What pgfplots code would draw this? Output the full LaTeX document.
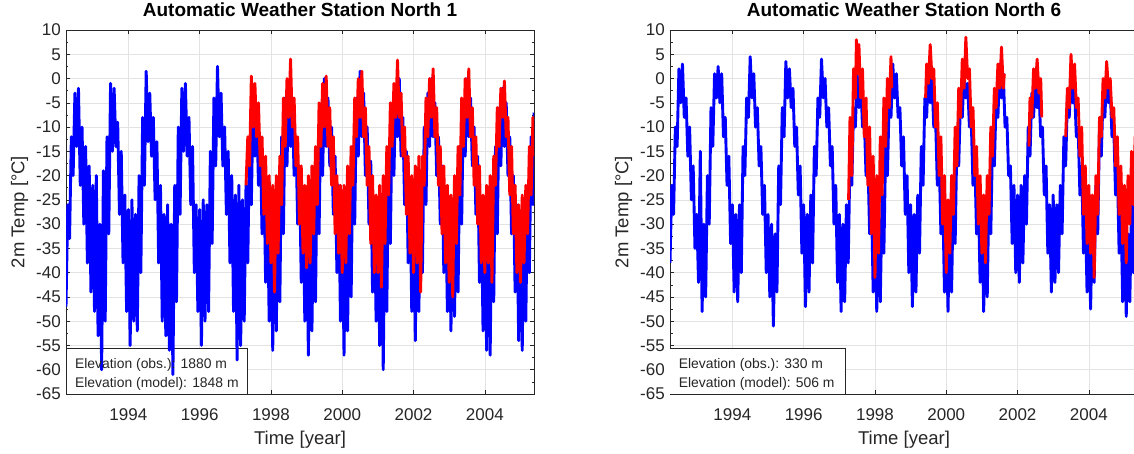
\documentclass[border=0pt]{standalone}
\usepackage{fontspec}
\setmainfont{Liberation Sans}
\usepackage{pgfplots}
\pgfplotsset{compat=1.18}
\definecolor{mblue}{rgb}{0,0,1}
\definecolor{mred}{rgb}{1,0,0}
\definecolor{axgray}{gray}{0.15}
\tikzset{
  dat/.style={line width=2.9pt, line join=round},
  elev/.style={anchor=base west, inner sep=0pt, font=\fontsize{13.9}{16}\selectfont, text=axgray},
}
\pgfplotsset{
  awsaxis/.style={
    scale only axis, width=468pt, height=364pt,
    anchor=south west,
    xmin=1992.25, xmax=2005.38, ymin=-65, ymax=10,
    xtick={1994,1996,...,2004}, ytick={-65,-60,...,10},
    minor x tick num=3, minor y tick num=1,
    grid=major, major grid style={gray!22, line width=0.5pt},
    tick align=inside, major tick length=4pt, minor tick length=2.5pt,
    axis line style={axgray, line width=0.6pt},
    every tick/.style={axgray, line width=0.5pt},
    tick label style={text=axgray, font=\fontsize{17}{20}\selectfont},
    /pgf/number format/assume math mode=true,
    /pgf/number format/1000 sep={},
    xticklabel style={anchor=base, yshift=-26pt},
    yticklabel style={anchor=east, inner sep=0pt, xshift=-5pt},
    title style={font=\bfseries\fontsize{19}{22}\selectfont, at={(axis description cs:0.5,1)}, anchor=base, yshift=8pt},
    xlabel style={font=\fontsize{18.5}{21}\selectfont, text=axgray, at={(axis description cs:0.5,0)}, anchor=base, yshift=-50pt},
    ylabel style={font=\fontsize{18.5}{21}\selectfont, text=axgray, at={(axis description cs:-0.0887,0.5)}, anchor=base},
    xlabel={Time [year]}, ylabel={2m Temp [°C]},
    unbounded coords=jump,
  },
}
\begin{document}
\begin{tikzpicture}
% ---------------- Left panel ----------------
\begin{axis}[awsaxis, at={(66pt,59pt)}, title={Automatic Weather Station North 1}]
\draw[axgray, line width=0.7pt, fill=white] (axis cs:1992.25,-65) rectangle (axis cs:1997.33,-55.5);
\addplot[mblue, dat] coordinates {
(1992.25,-47)(1992.30,-26)(1992.35,-33)(1992.40,-12)(1992.45,-20)(1992.50,-3)(1992.55,-14)(1992.60,-2)(1992.65,-22)(1992.70,-10)(1992.75,-30)(1992.80,-14)(1992.85,-38)(1992.90,-18)(1992.95,-44)
(1993.00,-22)(1993.05,-48)(1993.10,-20)(1993.15,-53)(1993.20,-30)(1993.25,-60)(1993.30,-19)(1993.35,-50)(1993.40,-12)(1993.45,-32)(1993.50,-1)(1993.55,-15)(1993.60,-2)(1993.65,-14)(1993.70,-9)(1993.75,-28)(1993.80,-15)(1993.85,-38)(1993.90,-24)(1993.95,-48)
(1994.00,-27)(1994.05,-55)(1994.10,-25)(1994.15,-50)(1994.20,-28)(1994.25,-52)(1994.30,-20)(1994.35,-40)(1994.40,-8)(1994.45,-22)(1994.50,1.5)(1994.55,-13)(1994.60,-3)(1994.65,-16)(1994.70,-8)(1994.75,-25)(1994.80,-13)(1994.85,-38)(1994.90,-22)(1994.95,-50)
(1995.00,-28)(1995.05,-53)(1995.10,-26)(1995.15,-56)(1995.20,-30)(1995.25,-61)(1995.30,-22)(1995.35,-46)(1995.40,-10)(1995.45,-28)(1995.50,-2)(1995.55,-15)(1995.60,-1)(1995.65,-16)(1995.70,-8)(1995.75,-26)(1995.80,-14)(1995.85,-40)(1995.90,-26)(1995.95,-48)
(1996.00,-27)(1996.05,-55)(1996.10,-25)(1996.15,-50)(1996.20,-26)(1996.25,-48)(1996.30,-15)(1996.35,-34)(1996.40,-4)(1996.45,-18)(1996.50,2.5)(1996.55,-12)(1996.60,-3)(1996.65,-18)(1996.70,-10)(1996.75,-28)(1996.80,-15)(1996.85,-38)(1996.90,-20)(1996.95,-48)
(1997.00,-24)(1997.05,-58)(1997.10,-22)(1997.15,-55)(1997.20,-25)(1997.25,-50)(1997.30,-22)(1997.35,-38)(1997.40,-12)(1997.45,-26)(1997.50,-4)(1997.55,-16)(1997.60,-6)(1997.65,-22)(1997.70,-12)(1997.75,-32)(1997.80,-17)(1997.85,-42)(1997.90,-24)(1997.95,-50)
(1998.00,-26)(1998.05,-56)(1998.10,-25)(1998.15,-52)(1998.20,-22)(1998.25,-46)(1998.30,-12)(1998.35,-32)(1998.40,-4)(1998.45,-18)(1998.50,-1)(1998.55,-14)(1998.60,-5)(1998.65,-20)(1998.70,-12)(1998.75,-30)(1998.80,-18)(1998.85,-42)(1998.90,-24)(1998.95,-50)
(1999.00,-28)(1999.05,-57)(1999.10,-26)(1999.15,-52)(1999.20,-24)(1999.25,-46)(1999.30,-15)(1999.35,-32)(1999.40,-6)(1999.45,-20)(1999.50,0)(1999.55,-14)(1999.60,-4)(1999.65,-18)(1999.70,-10)(1999.75,-28)(1999.80,-16)(1999.85,-40)(1999.90,-22)(1999.95,-50)
(2000.00,-27)(2000.05,-57)(2000.10,-26)(2000.15,-52)(2000.20,-24)(2000.25,-45)(2000.30,-14)(2000.35,-30)(2000.40,-4)(2000.45,-16)(2000.50,1.5)(2000.55,-12)(2000.60,-3)(2000.65,-20)(2000.70,-10)(2000.75,-30)(2000.80,-17)(2000.85,-44)(2000.90,-25)(2000.95,-50)
(2001.00,-27)(2001.05,-55)(2001.10,-28)(2001.15,-60)(2001.20,-25)(2001.25,-48)(2001.30,-16)(2001.35,-34)(2001.40,-7)(2001.45,-20)(2001.50,-2)(2001.55,-12)(2001.60,0)(2001.65,-16)(2001.70,-8)(2001.75,-26)(2001.80,-15)(2001.85,-38)(2001.90,-22)(2001.95,-48)
(2002.00,-26)(2002.05,-54)(2002.10,-24)(2002.15,-48)(2002.20,-20)(2002.25,-40)(2002.30,-10)(2002.35,-26)(2002.40,-3)(2002.45,-14)(2002.50,0)(2002.55,-12)(2002.60,-5)(2002.65,-20)(2002.70,-12)(2002.75,-30)(2002.80,-18)(2002.85,-40)(2002.90,-24)(2002.95,-48)
(2003.00,-26)(2003.05,-52)(2003.10,-25)(2003.15,-49)(2003.20,-24)(2003.25,-44)(2003.30,-14)(2003.35,-30)(2003.40,-5)(2003.45,-16)(2003.50,0)(2003.55,-12)(2003.60,-4)(2003.65,-18)(2003.70,-10)(2003.75,-28)(2003.80,-16)(2003.85,-42)(2003.90,-25)(2003.95,-52)
(2004.00,-28)(2004.05,-56)(2004.10,-26)(2004.15,-57)(2004.20,-25)(2004.25,-46)(2004.30,-14)(2004.35,-32)(2004.40,-6)(2004.45,-18)(2004.50,-2)(2004.55,-14)(2004.60,-5)(2004.65,-20)(2004.70,-12)(2004.75,-32)(2004.80,-20)(2004.85,-44)(2004.90,-26)(2004.95,-54)
(2005.00,-28)(2005.05,-56)(2005.10,-26)(2005.15,-50)(2005.20,-22)(2005.25,-40)(2005.30,-12)(2005.35,-26)(2005.38,-7)
};
\addplot[mred, dat] coordinates {
(1997.30,-22)(1997.35,-12)(1997.40,-18)(1997.45,0.5)(1997.50,-10)(1997.55,-1)(1997.60,-12)(1997.65,-5)(1997.70,-18)(1997.75,-12)(1997.80,-28)(1997.85,-16)(1997.90,-34)(1997.95,-20)
(1998.00,-38)(1998.05,-22)(1998.10,-44)(1998.15,-20)(1998.20,-36)(1998.25,-16)(1998.30,-26)(1998.35,-4)(1998.40,-14)(1998.45,0)(1998.50,-8)(1998.55,4)(1998.60,-10)(1998.65,-4)(1998.70,-18)(1998.75,-12)(1998.80,-30)(1998.85,-18)(1998.90,-36)(1998.95,-22)
(1999.00,-39)(1999.05,-20)(1999.10,-38)(1999.15,-18)(1999.20,-32)(1999.25,-14)(1999.30,-26)(1999.35,-5)(1999.40,-14)(1999.45,-1)(1999.50,-10)(1999.55,0.5)(1999.60,-14)(1999.65,-6)(1999.70,-22)(1999.75,-12)(1999.80,-32)(1999.85,-20)(1999.90,-36)(1999.95,-22)
(2000.00,-40)(2000.05,-22)(2000.10,-38)(2000.15,-18)(2000.20,-32)(2000.25,-14)(2000.30,-22)(2000.35,-4)(2000.40,-12)(2000.45,0)(2000.50,-8)(2000.55,1.5)(2000.60,-12)(2000.65,-6)(2000.70,-22)(2000.75,-14)(2000.80,-34)(2000.85,-20)(2000.90,-40)(2000.95,-24)
(2001.00,-40)(2001.05,-22)(2001.10,-43)(2001.15,-20)(2001.20,-34)(2001.25,-14)(2001.30,-24)(2001.35,-5)(2001.40,-14)(2001.45,-1)(2001.50,-8)(2001.55,3.8)(2001.60,-8)(2001.65,-3)(2001.70,-16)(2001.75,-10)(2001.80,-28)(2001.85,-16)(2001.90,-36)(2001.95,-20)
(2002.00,-40)(2002.05,-18)(2002.10,-38)(2002.15,-16)(2002.20,-44)(2002.25,-16)(2002.30,-22)(2002.35,-4)(2002.40,-12)(2002.45,0)(2002.50,-8)(2002.55,2)(2002.60,-12)(2002.65,-6)(2002.70,-22)(2002.75,-14)(2002.80,-32)(2002.85,-18)(2002.90,-38)(2002.95,-22)
(2003.00,-42)(2003.05,-24)(2003.10,-45)(2003.15,-20)(2003.20,-34)(2003.25,-14)(2003.30,-24)(2003.35,-4)(2003.40,-14)(2003.45,0)(2003.50,-8)(2003.55,2)(2003.60,-12)(2003.65,-6)(2003.70,-22)(2003.75,-12)(2003.80,-30)(2003.85,-18)(2003.90,-38)(2003.95,-24)
(2004.00,-40)(2004.05,-22)(2004.10,-38)(2004.15,-20)(2004.20,-42)(2004.25,-16)(2004.30,-22)(2004.35,-6)(2004.40,-14)(2004.45,-2)(2004.50,-8)(2004.55,-0.5)(2004.60,-12)(2004.65,-8)(2004.70,-24)(2004.75,-14)(2004.80,-32)(2004.85,-22)(2004.90,-40)(2004.95,-26)
(2005.00,-42)(2005.05,-24)(2005.10,-38)(2005.15,-22)(2005.20,-32)(2005.25,-14)(2005.30,-24)(2005.35,-8)(2005.38,-16)
};
\node[elev] at (axis cs:1992.50,-59.65) {Elevation (obs.): 1880 m};
\node[elev] at (axis cs:1992.50,-63.56) {Elevation (model): 1848 m};
\end{axis}
% ---------------- Right panel ----------------
\begin{axis}[awsaxis, at={(670pt,59pt)}, title={Automatic Weather Station North 6}]
\draw[axgray, line width=0.7pt, fill=white] (axis cs:1992.24,-65) rectangle (axis cs:1997.18,-55.5);
\addplot[mblue, dat] coordinates {
(1992.25,-38)(1992.30,-22)(1992.35,-28)(1992.40,-10)(1992.45,-14)(1992.50,2)(1992.55,-5)(1992.60,3)(1992.65,-8)(1992.70,-4)(1992.75,-16)(1992.80,-10)(1992.85,-25)(1992.90,-18)(1992.95,-35)
(1993.00,-28)(1993.05,-42)(1993.10,-15)(1993.15,-48)(1993.20,-30)(1993.25,-45)(1993.30,-20)(1993.35,-30)(1993.40,-6)(1993.45,-14)(1993.50,1)(1993.55,-4)(1993.60,2.5)(1993.65,-5)(1993.70,1)(1993.75,-12)(1993.80,-8)(1993.85,-22)(1993.90,-16)(1993.95,-34)
(1994.00,-26)(1994.05,-44)(1994.10,-28)(1994.15,-46)(1994.20,-26)(1994.25,-40)(1994.30,-14)(1994.35,-20)(1994.40,-4)(1994.45,-8)(1994.50,4.5)(1994.55,-4)(1994.60,1)(1994.65,-10)(1994.70,-6)(1994.75,-18)(1994.80,-14)(1994.85,-28)(1994.90,-22)(1994.95,-40)
(1995.00,-28)(1995.05,-45)(1995.10,-30)(1995.15,-51)(1995.20,-32)(1995.25,-44)(1995.30,-18)(1995.35,-26)(1995.40,-6)(1995.45,-12)(1995.50,3.5)(1995.55,-4)(1995.60,2)(1995.65,-6)(1995.70,-2)(1995.75,-14)(1995.80,-10)(1995.85,-24)(1995.90,-18)(1995.95,-36)
(1996.00,-26)(1996.05,-47)(1996.10,-28)(1996.15,-44)(1996.20,-24)(1996.25,-38)(1996.30,-14)(1996.35,-20)(1996.40,-4)(1996.45,-8)(1996.50,4)(1996.55,-4)(1996.60,0)(1996.65,-10)(1996.70,-6)(1996.75,-18)(1996.80,-14)(1996.85,-30)(1996.90,-22)(1996.95,-42)
(1997.00,-28)(1997.05,-48)(1997.10,-30)(1997.15,-46)(1997.20,-26)(1997.25,-38)(1997.30,-16)(1997.35,-22)(1997.40,-6)(1997.45,-10)(1997.50,1)(1997.55,-6)(1997.60,0)(1997.65,-10)(1997.70,-8)(1997.75,-20)(1997.80,-16)(1997.85,-32)(1997.90,-24)(1997.95,-44)
(1998.00,-28)(1998.05,-48)(1998.10,-30)(1998.15,-46)(1998.20,-24)(1998.25,-36)(1998.30,-14)(1998.35,-20)(1998.40,-4)(1998.45,-8)(1998.50,3)(1998.55,-4)(1998.60,1)(1998.65,-8)(1998.70,-6)(1998.75,-18)(1998.80,-12)(1998.85,-28)(1998.90,-20)(1998.95,-40)
(1999.00,-26)(1999.05,-47)(1999.10,-28)(1999.15,-44)(1999.20,-24)(1999.25,-36)(1999.30,-14)(1999.35,-22)(1999.40,-4)(1999.45,-8)(1999.50,2.5)(1999.55,-5)(1999.60,0)(1999.65,-10)(1999.70,-8)(1999.75,-22)(1999.80,-16)(1999.85,-32)(1999.90,-24)(1999.95,-44)
(2000.00,-30)(2000.05,-48)(2000.10,-28)(2000.15,-44)(2000.20,-22)(2000.25,-34)(2000.30,-12)(2000.35,-18)(2000.40,-4)(2000.45,-8)(2000.50,1)(2000.55,-4)(2000.60,-1)(2000.65,-10)(2000.70,-8)(2000.75,-22)(2000.80,-16)(2000.85,-32)(2000.90,-24)(2000.95,-42)
(2001.00,-28)(2001.05,-48)(2001.10,-30)(2001.15,-45)(2001.20,-22)(2001.25,-32)(2001.30,-12)(2001.35,-18)(2001.40,-4)(2001.45,-8)(2001.50,3)(2001.55,-4)(2001.60,1)(2001.65,-10)(2001.70,-8)(2001.75,-20)(2001.80,-18)(2001.85,-34)(2001.90,-22)(2001.95,-40)
(2002.00,-24)(2002.05,-42)(2002.10,-22)(2002.15,-38)(2002.20,-20)(2002.25,-30)(2002.30,-10)(2002.35,-16)(2002.40,-3)(2002.45,-8)(2002.50,0.5)(2002.55,-6)(2002.60,-2)(2002.65,-12)(2002.70,-10)(2002.75,-24)(2002.80,-18)(2002.85,-36)(2002.90,-26)(2002.95,-44)
(2003.00,-24)(2003.05,-42)(2003.10,-26)(2003.15,-40)(2003.20,-22)(2003.25,-32)(2003.30,-12)(2003.35,-18)(2003.40,-4)(2003.45,-8)(2003.50,0)(2003.55,-5)(2003.60,-2)(2003.65,-12)(2003.70,-10)(2003.75,-24)(2003.80,-18)(2003.85,-36)(2003.90,-26)(2003.95,-44)
(2004.00,-30)(2004.05,-47.5)(2004.10,-28)(2004.15,-42)(2004.20,-22)(2004.25,-32)(2004.30,-10)(2004.35,-16)(2004.40,-3)(2004.45,-8)(2004.50,1)(2004.55,-5)(2004.60,-2)(2004.65,-12)(2004.70,-10)(2004.75,-24)(2004.80,-18)(2004.85,-36)(2004.90,-26)(2004.95,-46)
(2005.00,-30)(2005.05,-49)(2005.10,-32)(2005.15,-46)(2005.20,-26)(2005.25,-40)(2005.30,-22)(2005.35,-36)(2005.38,-30)
};
\addplot[mred, dat] coordinates {
(1997.26,-25)(1997.30,-8)(1997.35,-20)(1997.40,2)(1997.45,-4)(1997.48,8)(1997.52,1)(1997.55,7)(1997.60,-4)(1997.65,2)(1997.70,-12)(1997.75,-4)(1997.80,-22)(1997.85,-10)(1997.90,-32)(1997.95,-16)
(1998.00,-41)(1998.05,-20)(1998.10,-36)(1998.15,-12)(1998.20,-24)(1998.25,-4)(1998.30,-14)(1998.35,0)(1998.40,-6)(1998.45,4.5)(1998.47,-2)(1998.48,nan)
(1999.42,-4)(1999.45,3)(1999.50,-1)(1999.55,7)(1999.60,0)(1999.65,2)(1999.70,-10)(1999.75,-5)(1999.80,-20)(1999.85,-12)(1999.90,-30)(1999.95,-20)
(2000.00,-40)(2000.05,-25)(2000.10,-36)(2000.15,-20)(2000.20,-28)(2000.25,-10)(2000.30,-18)(2000.35,-2)(2000.40,-8)(2000.45,4)(2000.50,-2)(2000.55,8.5)(2000.60,0)(2000.65,2)(2000.70,-10)(2000.75,-6)(2000.80,-20)(2000.85,-14)(2000.90,-30)(2000.95,-20)
(2001.00,-36)(2001.05,-24)(2001.10,-38)(2001.15,-20)(2001.20,-28)(2001.25,-10)(2001.30,-16)(2001.35,-2)(2001.40,-6)(2001.45,3)(2001.50,-2)(2001.55,6.5)(2001.60,-2)(2001.63,1)(2001.64,nan)
(2002.32,-14)(2002.35,-4)(2002.40,-8)(2002.45,2)(2002.50,-2)(2002.55,4)(2002.60,-3)(2002.65,0)(2002.68,-8)(2002.69,nan)
(2003.35,-12)(2003.40,-2)(2003.45,-6)(2003.50,5)(2003.55,-2)(2003.60,3)(2003.65,-6)(2003.70,-4)(2003.75,-16)(2003.80,-10)(2003.85,-28)(2003.90,-18)(2003.95,-34)
(2004.00,-22)(2004.05,-36)(2004.10,-24)(2004.15,-41)(2004.20,-20)(2004.25,-28)(2004.30,-8)(2004.35,-12)(2004.40,0)(2004.45,-4)(2004.50,3.5)(2004.55,-2)(2004.60,0)(2004.65,-8)(2004.70,-6)(2004.75,-18)(2004.80,-12)(2004.85,-28)(2004.90,-18)(2004.95,-34)
(2005.00,-22)(2005.05,-38)(2005.10,-20)(2005.15,-30)(2005.20,-15)(2005.25,-26)(2005.30,-12)(2005.35,-22)(2005.38,-14)
};
\node[elev] at (axis cs:1992.49,-59.65) {Elevation (obs.): 330 m};
\node[elev] at (axis cs:1992.49,-63.56) {Elevation (model): 506 m};
\end{axis}
\pgfresetboundingbox
\path[use as bounding box] (0,0) rectangle (1134pt,453pt);
\end{tikzpicture}
\end{document}
